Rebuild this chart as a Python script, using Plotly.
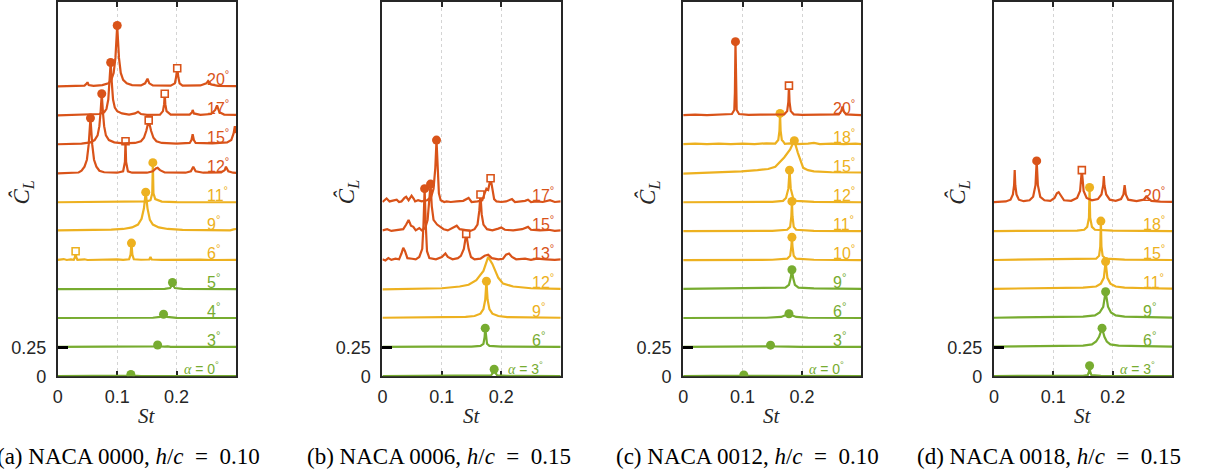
import plotly.graph_objects as go

W, H = 1212, 484
S = H / 474.0        # vertical design scale: rows below are given on a 474-row grid
ORANGE, YELLOW, GREEN = "#D95319", "#EDB120", "#77AC30"
COLORS = {"g": GREEN, "y": YELLOW, "o": ORANGE}
STEP = 0.25          # vertical offset between successive angles of attack
INK = "#262626"

ST_TICKS = [0, 0.1, 0.2]
ST_TICKTEXT = ["0", "0.1", "0.2"]
CL_TICKS = [0, 0.25]
CL_TICKTEXT = ["0", "0.25"]

# ---------------- (a) NACA 0000, h/c = 0.10 ----------------
A_ALPHA = [0, 3, 4, 5, 6, 9, 11, 12, 15, 17, 20]
A_REGIME = ["g", "g", "g", "g", "y", "y", "y", "o", "o", "o", "o"]
A_CIRCLE = [(0.123, 0.015), (0.168, 0.02), (0.178, 0.035), (0.193, 0.06), (0.124, 0.15),
            (0.148, 0.34), (0.160, 0.345), (0.055, 0.48), (0.074, 0.44), (0.089, 0.46), (0.100, 0.53)]
A_SQUARE = [None, None, None, None, (0.030, 0.08), None, None,
            (0.114, 0.28), (0.153, 0.21), (0.180, 0.19), (0.201, 0.16)]
A_SPECTRA = [
    [(0, 0.002), (0.11, 0.002), (0.119, 0.006), (0.127, 0.006), (0.14, 0.002), (0.3, 0.002)],
    [(0, 0.003), (0.15, 0.004), (0.163, 0.008), (0.173, 0.008), (0.18, 0.005), (0.185, 0.008),
     (0.19, 0.003), (0.3, 0.003)],
    [(0, 0.003), (0.16, 0.005), (0.172, 0.012), (0.184, 0.012), (0.2, 0.004), (0.3, 0.003)],
    [(0, 0.003), (0.18, 0.005), (0.189, 0.012), (0.192, 0.035), (0.194, 0.035), (0.197, 0.012),
     (0.21, 0.004), (0.3, 0.003)],
    [(0, 0.005), (0.01, 0.012), (0.015, 0.004), (0.022, 0.01), (0.027, 0.005), (0.029, 0.03),
     (0.031, 0.03), (0.033, 0.005), (0.045, 0.01), (0.05, 0.004), (0.07, 0.008), (0.08, 0.004),
     (0.1, 0.01), (0.11, 0.005), (0.12, 0.01), (0.1225, 0.05), (0.1255, 0.05), (0.128, 0.01),
     (0.14, 0.006), (0.154, 0.008), (0.156, 0.03), (0.158, 0.008), (0.175, 0.005), (0.2, 0.008),
     (0.21, 0.004), (0.24, 0.007), (0.26, 0.004), (0.3, 0.005)],
    [(0, 0.01), (0.05, 0.012), (0.09, 0.016), (0.11, 0.022), (0.125, 0.035), (0.135, 0.06),
     (0.141, 0.11), (0.145, 0.2), (0.151, 0.2), (0.155, 0.1), (0.16, 0.06), (0.17, 0.035),
     (0.185, 0.022), (0.21, 0.015), (0.25, 0.012), (0.29, 0.01), (0.296, 0.018), (0.3, 0.022)],
    [(0, 0.003), (0.12, 0.005), (0.15, 0.01), (0.156, 0.02), (0.159, 0.08), (0.161, 0.08),
     (0.164, 0.03), (0.168, 0.02), (0.175, 0.008), (0.2, 0.004), (0.3, 0.003)],
    [(0, 0.003), (0.02, 0.005), (0.035, 0.01), (0.04, 0.025), (0.045, 0.06), (0.049, 0.12),
     (0.052, 0.25), (0.058, 0.25), (0.061, 0.12), (0.065, 0.06), (0.07, 0.025), (0.078, 0.012),
     (0.1, 0.008), (0.11, 0.02), (0.113, 0.1), (0.115, 0.1), (0.118, 0.02), (0.125, 0.008),
     (0.15, 0.008), (0.16, 0.02), (0.165, 0.045), (0.168, 0.05), (0.172, 0.03), (0.18, 0.01),
     (0.215, 0.008), (0.224, 0.02), (0.228, 0.06), (0.232, 0.02), (0.245, 0.008), (0.275, 0.01),
     (0.281, 0.03), (0.283, 0.06), (0.287, 0.02), (0.295, 0.008), (0.3, 0.006)],
    [(0, 0.004), (0.04, 0.01), (0.055, 0.02), (0.062, 0.04), (0.067, 0.08), (0.07, 0.16),
     (0.072, 0.28), (0.076, 0.28), (0.078, 0.16), (0.081, 0.08), (0.086, 0.04), (0.095, 0.02),
     (0.11, 0.012), (0.13, 0.015), (0.14, 0.03), (0.145, 0.06), (0.149, 0.12), (0.157, 0.12),
     (0.161, 0.06), (0.166, 0.03), (0.175, 0.015), (0.2, 0.01), (0.222, 0.015), (0.225, 0.04),
     (0.227, 0.09), (0.229, 0.04), (0.232, 0.015), (0.26, 0.012), (0.285, 0.02), (0.292, 0.04),
     (0.296, 0.1), (0.298, 0.16), (0.3, 0.1)],
    [(0, 0.004), (0.05, 0.008), (0.07, 0.015), (0.078, 0.03), (0.082, 0.06), (0.085, 0.14),
     (0.087, 0.28), (0.091, 0.28), (0.093, 0.14), (0.096, 0.07), (0.1, 0.04), (0.108, 0.02),
     (0.12, 0.01), (0.13, 0.02), (0.135, 0.035), (0.14, 0.015), (0.15, 0.008), (0.172, 0.01),
     (0.177, 0.04), (0.179, 0.1), (0.181, 0.1), (0.183, 0.04), (0.19, 0.01), (0.222, 0.01),
     (0.226, 0.03), (0.227, 0.05), (0.229, 0.02), (0.24, 0.008), (0.258, 0.015), (0.265, 0.05),
     (0.268, 0.09), (0.272, 0.03), (0.28, 0.01), (0.3, 0.008)],
    [(0, 0.004), (0.03, 0.006), (0.045, 0.01), (0.049, 0.03), (0.05, 0.04), (0.052, 0.015),
     (0.06, 0.008), (0.075, 0.015), (0.085, 0.03), (0.09, 0.06), (0.094, 0.12), (0.097, 0.25),
     (0.103, 0.25), (0.106, 0.12), (0.11, 0.06), (0.116, 0.03), (0.125, 0.015), (0.14, 0.012),
     (0.147, 0.03), (0.151, 0.07), (0.154, 0.03), (0.16, 0.012), (0.19, 0.01), (0.197, 0.03),
     (0.199, 0.08), (0.203, 0.08), (0.205, 0.03), (0.21, 0.01), (0.24, 0.012), (0.25, 0.03),
     (0.253, 0.05), (0.258, 0.02), (0.27, 0.008), (0.3, 0.006)],
]

# ---------------- (b) NACA 0006, h/c = 0.15 ----------------
B_ALPHA = [3, 6, 9, 12, 13, 15, 17]
B_REGIME = ["g", "g", "y", "y", "o", "o", "o"]
B_CIRCLE = [(0.188, 0.06), (0.173, 0.165), (0.175, 0.32), None, (0.071, 0.62), (0.081, 0.41), (0.091, 0.54)]
B_SQUARE = [None, None, None, None, (0.141, 0.23), (0.165, 0.32), (0.182, 0.21)]
B_SPECTRA = [
    [(0, 0.002), (0.17, 0.003), (0.183, 0.008), (0.186, 0.03), (0.19, 0.03), (0.193, 0.008),
     (0.21, 0.003), (0.3, 0.002)],
    [(0, 0.003), (0.03, 0.006), (0.04, 0.004), (0.08, 0.005), (0.15, 0.006), (0.165, 0.012),
     (0.17, 0.03), (0.172, 0.09), (0.174, 0.09), (0.176, 0.03), (0.18, 0.012), (0.2, 0.005),
     (0.3, 0.003)],
    [(0, 0.005), (0.1, 0.008), (0.14, 0.012), (0.155, 0.02), (0.165, 0.04), (0.17, 0.08),
     (0.173, 0.16), (0.177, 0.16), (0.18, 0.08), (0.185, 0.04), (0.195, 0.02), (0.21, 0.01),
     (0.3, 0.005)],
    [(0, 0.0), (0.05, 0.005), (0.1, 0.01), (0.13, 0.025), (0.145, 0.04), (0.158, 0.08),
     (0.17, 0.16), (0.178, 0.28), (0.185, 0.22), (0.195, 0.1), (0.203, 0.05), (0.22, 0.025),
     (0.25, 0.01), (0.3, 0.005)],
    [(0, 0.01), (0.005, 0.0), (0.01, 0.02), (0.015, 0.005), (0.022, 0.015), (0.028, 0.01),
     (0.032, 0.06), (0.035, 0.11), (0.038, 0.08), (0.042, 0.02), (0.05, 0.015), (0.056, 0.01),
     (0.062, 0.03), (0.067, 0.1), (0.069, 0.3), (0.073, 0.3), (0.075, 0.08), (0.079, 0.02),
     (0.09, 0.01), (0.1, 0.03), (0.106, 0.06), (0.11, 0.03), (0.118, 0.01), (0.127, 0.02),
     (0.132, 0.04), (0.137, 0.1), (0.145, 0.1), (0.149, 0.03), (0.155, 0.01), (0.165, 0.015),
     (0.172, 0.04), (0.178, 0.05), (0.184, 0.02), (0.195, 0.01), (0.203, 0.015), (0.208, 0.05),
     (0.213, 0.06), (0.218, 0.03), (0.225, 0.01), (0.24, 0.015), (0.25, 0.005), (0.26, 0.015),
     (0.275, 0.01), (0.29, 0.005), (0.3, 0.01)],
    [(0, 0.01), (0.008, 0.02), (0.015, 0.005), (0.025, 0.015), (0.035, 0.02), (0.04, 0.06),
     (0.044, 0.1), (0.048, 0.05), (0.052, 0.04), (0.056, 0.01), (0.062, 0.03), (0.066, 0.01),
     (0.072, 0.03), (0.076, 0.1), (0.079, 0.25), (0.083, 0.22), (0.086, 0.1), (0.092, 0.06),
     (0.097, 0.04), (0.103, 0.02), (0.11, 0.01), (0.118, 0.03), (0.125, 0.05), (0.13, 0.02),
     (0.14, 0.015), (0.148, 0.005), (0.155, 0.02), (0.16, 0.06), (0.163, 0.18), (0.167, 0.15),
     (0.17, 0.06), (0.176, 0.02), (0.185, 0.01), (0.195, 0.025), (0.2, 0.035), (0.206, 0.015),
     (0.22, 0.01), (0.235, 0.02), (0.245, 0.04), (0.25, 0.015), (0.265, 0.01), (0.28, 0.015),
     (0.29, 0.005), (0.3, 0.01)],
    [(0, 0.005), (0.007, 0.035), (0.012, 0.01), (0.018, 0.015), (0.024, 0.025), (0.028, 0.005),
     (0.032, 0.01), (0.037, 0.04), (0.04, 0.05), (0.044, 0.02), (0.049, 0.06), (0.053, 0.03),
     (0.055, 0.01), (0.06, 0.02), (0.066, 0.01), (0.075, 0.02), (0.082, 0.05), (0.086, 0.12),
     (0.089, 0.3), (0.093, 0.3), (0.095, 0.08), (0.098, 0.02), (0.104, 0.005), (0.108, 0.01),
     (0.115, 0.005), (0.125, 0.01), (0.136, 0.015), (0.145, 0.04), (0.15, 0.005), (0.16, 0.01),
     (0.168, 0.02), (0.172, 0.08), (0.175, 0.12), (0.178, 0.11), (0.18, 0.15), (0.185, 0.12),
     (0.188, 0.03), (0.192, 0.01), (0.2, 0.005), (0.208, 0.01), (0.214, 0.02), (0.218, 0.03),
     (0.223, 0.005), (0.232, 0.01), (0.24, 0.015), (0.245, 0.025), (0.25, 0.005), (0.259, 0.01),
     (0.27, 0.005), (0.282, 0.02), (0.29, 0.005), (0.3, 0.01)],
]

# ---------------- (c) NACA 0012, h/c = 0.10 ----------------
C_ALPHA = [0, 3, 6, 9, 10, 11, 12, 15, 18, 20]
C_REGIME = ["g", "g", "g", "g", "y", "y", "y", "y", "y", "o"]
C_CIRCLE = [(0.102, 0.01), (0.147, 0.018), (0.178, 0.04), (0.183, 0.17), (0.183, 0.2),
            (0.183, 0.26), (0.179, 0.28), (0.187, 0.285), (0.163, 0.27), (0.088, 0.64)]
C_SQUARE = [None, None, None, None, None, None, None, None, None, (0.178, 0.26)]
C_SPECTRA = [
    [(0, 0.002), (0.09, 0.002), (0.1, 0.005), (0.104, 0.005), (0.12, 0.003), (0.3, 0.002)],
    [(0, 0.003), (0.12, 0.004), (0.14, 0.008), (0.154, 0.008), (0.2, 0.004), (0.3, 0.003)],
    [(0, 0.003), (0.14, 0.005), (0.165, 0.012), (0.172, 0.025), (0.184, 0.025), (0.19, 0.012),
     (0.21, 0.005), (0.3, 0.003)],
    [(0, 0.004), (0.15, 0.008), (0.172, 0.015), (0.178, 0.04), (0.181, 0.1), (0.185, 0.1),
     (0.188, 0.04), (0.194, 0.015), (0.22, 0.008), (0.3, 0.004)],
    [(0, 0.003), (0.15, 0.006), (0.175, 0.015), (0.18, 0.04), (0.182, 0.12), (0.184, 0.12),
     (0.186, 0.04), (0.19, 0.015), (0.22, 0.006), (0.3, 0.003)],
    [(0, 0.003), (0.15, 0.006), (0.175, 0.015), (0.18, 0.04), (0.182, 0.13), (0.184, 0.13),
     (0.186, 0.04), (0.19, 0.015), (0.22, 0.006), (0.3, 0.003)],
    [(0, 0.003), (0.15, 0.006), (0.168, 0.015), (0.173, 0.04), (0.177, 0.12), (0.181, 0.12),
     (0.185, 0.04), (0.19, 0.015), (0.22, 0.006), (0.3, 0.003)],
    [(0, 0.0), (0.05, 0.008), (0.098, 0.02), (0.125, 0.03), (0.143, 0.04), (0.155, 0.06),
     (0.16, 0.085), (0.17, 0.14), (0.18, 0.21), (0.193, 0.18), (0.198, 0.1), (0.202, 0.05),
     (0.21, 0.03), (0.22, 0.02), (0.25, 0.012), (0.3, 0.01)],
    [(0, 0.005), (0.02, 0.01), (0.04, 0.005), (0.06, 0.01), (0.08, 0.005), (0.1, 0.01),
     (0.12, 0.005), (0.14, 0.012), (0.155, 0.01), (0.16, 0.04), (0.162, 0.12), (0.164, 0.12),
     (0.166, 0.04), (0.168, 0.03), (0.171, 0.008), (0.18, 0.012), (0.19, 0.005), (0.21, 0.01),
     (0.22, 0.015), (0.23, 0.005), (0.25, 0.01), (0.27, 0.005), (0.29, 0.01), (0.3, 0.005)],
    [(0, 0.005), (0.02, 0.01), (0.04, 0.005), (0.06, 0.01), (0.075, 0.008), (0.082, 0.015),
     (0.086, 0.05), (0.087, 0.2), (0.089, 0.2), (0.09, 0.05), (0.094, 0.015), (0.11, 0.008),
     (0.13, 0.01), (0.15, 0.008), (0.17, 0.012), (0.175, 0.04), (0.177, 0.12), (0.179, 0.12),
     (0.181, 0.04), (0.186, 0.012), (0.2, 0.008), (0.22, 0.01), (0.24, 0.006), (0.262, 0.012),
     (0.266, 0.04), (0.268, 0.08), (0.27, 0.04), (0.274, 0.012), (0.29, 0.008), (0.3, 0.005)],
]

# ---------------- (d) NACA 0018, h/c = 0.15 ----------------
D_ALPHA = [3, 6, 9, 11, 15, 18, 20]
D_REGIME = ["g", "g", "g", "y", "y", "y", "o"]
D_CIRCLE = [(0.161, 0.09), (0.182, 0.165), (0.188, 0.23), (0.188, 0.24), (0.180, 0.34),
            (0.161, 0.38), (0.072, 0.36)]
D_SQUARE = [None, None, None, None, None, None, (0.148, 0.28)]
D_SPECTRA = [
    [(0, 0.002), (0.15, 0.003), (0.158, 0.01), (0.16, 0.04), (0.162, 0.04), (0.164, 0.01),
     (0.18, 0.003), (0.3, 0.002)],
    [(0, 0.005), (0.1, 0.01), (0.15, 0.015), (0.165, 0.025), (0.172, 0.05), (0.177, 0.09),
     (0.186, 0.09), (0.19, 0.05), (0.196, 0.025), (0.21, 0.015), (0.25, 0.01), (0.3, 0.006)],
    [(0, 0.005), (0.1, 0.01), (0.15, 0.015), (0.17, 0.025), (0.178, 0.05), (0.184, 0.1),
     (0.192, 0.1), (0.197, 0.05), (0.205, 0.025), (0.22, 0.015), (0.26, 0.01), (0.3, 0.006)],
    [(0, 0.005), (0.1, 0.01), (0.15, 0.015), (0.172, 0.025), (0.18, 0.05), (0.185, 0.1),
     (0.191, 0.1), (0.196, 0.05), (0.205, 0.025), (0.22, 0.015), (0.26, 0.01), (0.3, 0.006)],
    [(0, 0.004), (0.15, 0.008), (0.172, 0.015), (0.177, 0.04), (0.179, 0.12), (0.181, 0.12),
     (0.183, 0.04), (0.188, 0.015), (0.22, 0.008), (0.3, 0.004)],
    [(0, 0.004), (0.14, 0.008), (0.152, 0.015), (0.157, 0.04), (0.16, 0.12), (0.162, 0.12),
     (0.165, 0.04), (0.17, 0.015), (0.2, 0.008), (0.3, 0.004)],
    [(0, 0.004), (0.02, 0.01), (0.028, 0.025), (0.032, 0.07), (0.034, 0.15), (0.035, 0.28),
     (0.036, 0.15), (0.038, 0.07), (0.042, 0.025), (0.05, 0.012), (0.06, 0.02), (0.066, 0.05),
     (0.07, 0.15), (0.074, 0.15), (0.078, 0.05), (0.085, 0.02), (0.095, 0.015), (0.102, 0.04),
     (0.106, 0.08), (0.109, 0.09), (0.113, 0.06), (0.118, 0.02), (0.13, 0.015), (0.14, 0.04),
     (0.145, 0.1), (0.151, 0.1), (0.156, 0.04), (0.165, 0.02), (0.175, 0.03), (0.181, 0.07),
     (0.184, 0.15), (0.185, 0.23), (0.186, 0.15), (0.189, 0.07), (0.195, 0.025), (0.205, 0.015),
     (0.214, 0.03), (0.218, 0.07), (0.22, 0.15), (0.222, 0.07), (0.226, 0.025), (0.24, 0.012),
     (0.252, 0.025), (0.256, 0.05), (0.257, 0.06), (0.259, 0.04), (0.265, 0.015), (0.28, 0.008),
     (0.3, 0.006)],
]

EQ = "\u2002=\u2002"
PANELS = [
    dict(left=53, right=232, alpha=A_ALPHA, regime=A_REGIME, circle=A_CIRCLE, square=A_SQUARE,
         spectra=A_SPECTRA, caption=f"(a) NACA 0000, <i>h</i>/<i>c</i>{EQ}0.10", cap_x=124),
    dict(left=379, right=558, alpha=B_ALPHA, regime=B_REGIME, circle=B_CIRCLE, square=B_SQUARE,
         spectra=B_SPECTRA, caption=f"(b) NACA 0006, <i>h</i>/<i>c</i>{EQ}0.15", cap_x=436),
    dict(left=681, right=860, alpha=C_ALPHA, regime=C_REGIME, circle=C_CIRCLE, square=C_SQUARE,
         spectra=C_SPECTRA, caption=f"(c) NACA 0012, <i>h</i>/<i>c</i>{EQ}0.10", cap_x=746),
    dict(left=993, right=1172, alpha=D_ALPHA, regime=D_REGIME, circle=D_CIRCLE, square=D_SQUARE,
         spectra=D_SPECTRA, caption=f"(d) NACA 0018, <i>h</i>/<i>c</i>{EQ}0.15", cap_x=1048),
]

PLOT_TOP, PLOT_BOTTOM = 1, 376          # rows of the axes box on the 474-row grid
Y_MAX = (PLOT_BOTTOM - PLOT_TOP) / 116.0  # 0.25 units = 29 rows
SANS = "Liberation Sans, Arial, sans-serif"
SERIF = "Liberation Serif, DejaVu Serif, serif"


def py(row):
    """row on the 474-row grid -> paper y"""
    return 1 - row * S / H


fig = go.Figure()
annotations = []
layout_axes = {}

for p_i, P in enumerate(PANELS):
    sfx = "" if p_i == 0 else str(p_i + 1)
    xref, yref = "x" + sfx, "y" + sfx

    for k, alpha in enumerate(P["alpha"]):
        col = COLORS[P["regime"][k]]
        base = k * STEP
        pts = list(P["spectra"][k])
        if P["circle"][k] is not None:
            pts.append(P["circle"][k])
        if P["square"][k] is not None:
            pts.append(P["square"][k])
        pts.sort()
        fig.add_trace(go.Scatter(
            x=[s for s, _ in pts], y=[base + a for _, a in pts], mode="lines",
            line=dict(color=col, width=2.2), xaxis=xref, yaxis=yref,
            showlegend=False, hoverinfo="skip"))
        if P["circle"][k] is not None:
            s, a = P["circle"][k]
            fig.add_trace(go.Scatter(
                x=[s], y=[base + a], mode="markers",
                marker=dict(symbol="circle", size=9, color=col, line=dict(width=0)),
                xaxis=xref, yaxis=yref, showlegend=False, hoverinfo="skip"))
        if P["square"][k] is not None:
            s, a = P["square"][k]
            fig.add_trace(go.Scatter(
                x=[s], y=[base + a], mode="markers",
                marker=dict(symbol="square", size=7, color="white", line=dict(width=1.6, color=col)),
                xaxis=xref, yaxis=yref, showlegend=False, hoverinfo="skip"))

        if k == 0:
            annotations.append(dict(
                x=0.274, y=base + 0.07, xref=xref, yref=yref, xanchor="right", yanchor="middle",
                text=f"<span style='font-family:{SERIF}'><i>α</i></span> = {alpha}<sup>°</sup>",
                showarrow=False, font=dict(family=SANS, size=14, color=col)))
        else:
            annotations.append(dict(
                x=0.248, y=base + 0.075, xref=xref, yref=yref, xanchor="left", yanchor="middle",
                text=f"{alpha}<sup>°</sup>", showarrow=False,
                font=dict(family=SANS, size=16, color=col)))

    dom_x = [P["left"] / W, P["right"] / W]
    dom_y = [py(PLOT_BOTTOM), py(PLOT_TOP)]
    layout_axes["xaxis" + sfx] = dict(
        domain=dom_x, range=[0, 0.3], anchor=yref, tickvals=ST_TICKS, ticktext=ST_TICKTEXT,
        ticks="inside", ticklen=5, tickwidth=2, tickcolor=INK, showline=True, linewidth=2,
        linecolor=INK, mirror="ticks", showgrid=True, gridcolor="#d4d4d4", griddash="dot",
        gridwidth=1, zeroline=False, layer="below traces", ticklabelstandoff=3,
        tickfont=dict(family=SANS, size=18, color=INK), fixedrange=True)
    layout_axes["yaxis" + sfx] = dict(
        domain=dom_y, range=[0, Y_MAX], anchor=xref, tickvals=CL_TICKS, ticktext=CL_TICKTEXT,
        ticks="inside", ticklen=10, tickwidth=2.5, tickcolor="black", showline=True, linewidth=2,
        linecolor=INK, mirror=True, showgrid=False, zeroline=False, layer="above traces",
        ticklabelstandoff=6, tickfont=dict(family=SANS, size=18, color=INK), fixedrange=True)

    # axis titles and sub-figure caption
    annotations.append(dict(
        x=(P["left"] - 35) / W, y=py(192), xref="paper", yref="paper",
        xanchor="center", yanchor="middle",
        text="<i>Ĉ</i><sub><i>L</i></sub>", textangle=-90, showarrow=False,
        font=dict(family=SERIF, size=23, color=INK)))
    annotations.append(dict(
        x=(P["left"] + P["right"]) / 2 / W, y=py(416), xref="paper", yref="paper",
        xanchor="center", yanchor="middle",
        text="<i>St</i>", showarrow=False, font=dict(family=SERIF, size=21, color=INK)))
    annotations.append(dict(
        x=P["cap_x"] / W, y=py(456), xref="paper", yref="paper",
        xanchor="center", yanchor="middle", text=P["caption"],
        showarrow=False, font=dict(family=SERIF, size=23, color="black")))

fig.update_layout(
    width=W, height=H, margin=dict(l=0, r=0, t=0, b=0),
    paper_bgcolor="white", plot_bgcolor="white", showlegend=False,
    annotations=annotations, **layout_axes)

PAGE_CSS = ("document.documentElement.style.margin='0';document.body.style.margin='0';"
            "document.body.style.padding='0';")
fig.write_html("out.html", config={"displayModeBar": False}, post_script=PAGE_CSS)
